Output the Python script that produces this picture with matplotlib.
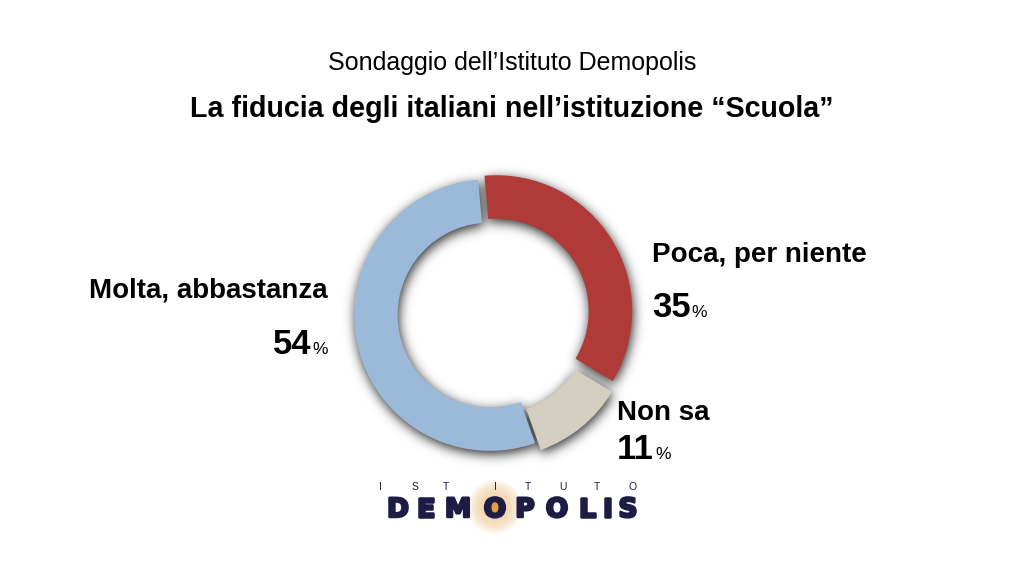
import numpy as np
import matplotlib.pyplot as plt
from matplotlib.patches import Ellipse
import matplotlib.patheffects as pe

plt.rcParams['font.family'] = ['Liberation Sans', 'DejaVu Sans']

# --- dati ---
categorie = ['Poca, per niente', 'Non sa', 'Molta, abbastanza']
valori = [35, 11, 54]
colori = ['#b03a38', '#d3cebf', '#9bb9d8']
esplosione = [0.055, 0.065, 0.0]

titolo = 'La fiducia degli italiani nell\u2019istituzione \u201cScuola\u201d'
sottotitolo = 'Sondaggio dell\u2019Istituto Demopolis'

W, H = 1024, 576
fig = plt.figure(figsize=(W / 100, H / 100), dpi=100)
fig.patch.set_facecolor('white')


def fx(px):
    return px / W


def fy(py):
    return 1 - py / H


# --- ciambella ---
ax = fig.add_axes([327 / W, 98 / H, 326 / W, 326 / H])
wedges, _ = ax.pie(valori, colors=colori, startangle=95, counterclock=False,
                   explode=esplosione, radius=1,
                   wedgeprops=dict(width=0.32, linewidth=0))

# ombra sfumata calcolata dalle fette
n = 480
g = np.linspace(-1.2, 1.2, n)
X, Y = np.meshgrid(g, g)
mask = np.zeros_like(X)
for w in wedges:
    cx, cy = w.center
    dx, dy = X - cx, Y - cy
    r = np.hypot(dx, dy)
    ang = np.degrees(np.arctan2(dy, dx)) % 360
    t1, t2 = w.theta1 % 360, w.theta2 % 360
    if t1 <= t2:
        dentro = (ang >= t1) & (ang <= t2)
    else:
        dentro = (ang >= t1) | (ang <= t2)
    mask[(r <= w.r) & (r >= w.r - w.width) & dentro] = 1.0

sig = 8.5
k = np.arange(-32, 33)
ker = np.exp(-k ** 2 / (2 * sig ** 2))
ker /= ker.sum()
blur = np.apply_along_axis(lambda v: np.convolve(v, ker, mode='same'), 0, mask)
blur = np.apply_along_axis(lambda v: np.convolve(v, ker, mode='same'), 1, blur)
rgba = np.zeros((n, n, 4))
rgba[..., 3] = np.clip(blur * 0.85, 0, 1)
ax.imshow(rgba, extent=(-1.2 + 0.01, 1.2 + 0.01, -1.2 - 0.025, 1.2 - 0.025),
          origin='lower', zorder=0, interpolation='bilinear')
ax.set_xlim(-1.2, 1.2)
ax.set_ylim(-1.2, 1.2)
ax.set_aspect('equal')
ax.axis('off')

# --- titoli ---
fig.text(0.5, fy(70), sottotitolo, ha='center', va='baseline', fontsize=18, color='black')
fig.text(0.5, fy(117), titolo, ha='center', va='baseline', fontsize=20.6, fontweight='bold',
         color='black')

# --- etichette ---
fig.canvas.draw()
renderer = fig.canvas.get_renderer()


def etichetta(nome, valore, x, y_nome, y_val, destra=False):
    ha = 'right' if destra else 'left'
    fig.text(fx(x), fy(y_nome), nome, ha=ha, va='baseline', fontsize=20, fontweight='bold')
    if destra:
        pct = fig.text(fx(x), fy(y_val), '%', ha='right', va='baseline', fontsize=12.5)
        bb = pct.get_window_extent(renderer)
        fig.text((bb.x0 - 1) / W, fy(y_val), str(valore), ha='right', va='baseline',
                 fontsize=25, fontweight='bold')
    else:
        num = fig.text(fx(x), fy(y_val), str(valore), ha='left', va='baseline',
                       fontsize=25, fontweight='bold')
        bb = num.get_window_extent(renderer)
        fig.text((bb.x1 + 1) / W, fy(y_val), '%', ha='left', va='baseline', fontsize=12.5)


etichetta(categorie[2], valori[2], 328, 297, 354, destra=True)
etichetta(categorie[0], valori[0], 652, 262, 317)
etichetta(categorie[1], valori[1], 617, 420, 459)

# --- logo ---
lax = fig.add_axes([0, 0, 1, 1])
lax.set_xlim(0, W)
lax.set_ylim(H, 0)
lax.axis('off')
for i in range(12):
    rr = 27 - i * 2
    lax.add_patch(Ellipse((495, 507), 2 * rr, 2 * rr, color='#f2c892', alpha=0.13, lw=0))

navy = '#1c1c44'
sopra = list('ISTITUTO')
x_sopra = [380, 415, 446, 495, 528, 563, 597, 633]
for c, xx in zip(sopra, x_sopra):
    fig.text(fx(xx), fy(490), c, ha='center', va='baseline', fontsize=7.5, color=navy)

marchio = list('DEMOPOLIS')
x_marchio = [398, 426, 458, 495, 525, 557, 587, 607, 628]
for c, xx in zip(marchio, x_marchio):
    fig.text(fx(xx), fy(517), c, ha='center', va='baseline', fontsize=19,
             fontweight='bold', family=['DejaVu Sans'], color=navy,
             path_effects=[pe.withStroke(linewidth=1.8, foreground=navy)])
lax.add_patch(Ellipse((495, 507), 12, 14, color='#e3a040', lw=0, zorder=5))
lax.set_zorder(3)
lax.patch.set_alpha(0)

fig.savefig('out.png', dpi=100, facecolor='white')
